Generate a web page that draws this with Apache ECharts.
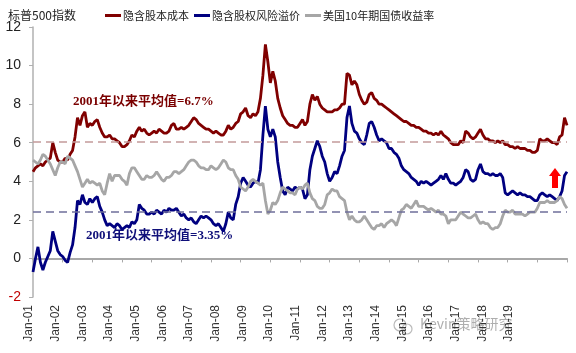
<!DOCTYPE html>
<html>
<head>
<meta charset="utf-8">
<script src="https://cdn.jsdelivr.net/npm/echarts@6/dist/echarts.min.js"></script>
<style>
  html, body { margin: 0; padding: 0; background: #fff; }
  #chart { width: 576px; height: 353px; }
</style>
</head>
<body>
<div id="chart"></div>
<script>
// 年度刻度标签
const tickLabels = ['Jan-01', 'Jan-02', 'Jan-03', 'Jan-04', 'Jan-05', 'Jan-06', 'Jan-07', 'Jan-08', 'Jan-09', 'Jan-10',
  'Jan-11', 'Jan-12', 'Jan-13', 'Jan-14', 'Jan-15', 'Jan-16', 'Jan-17', 'Jan-18', 'Jan-19'];

// 月度数据 2001-01 ~ 2019-01
const costOfEquity = [
  4.5, 4.7, 4.8, 4.9, 4.8, 5.0, 5.1, 5.2, 6.0, 5.5, 5.1, 5.0,
  5.0, 5.2, 5.1, 5.4, 5.6, 6.3, 7.3, 6.9, 7.4, 7.6, 6.8, 7.0,
  6.9, 7.1, 7.2, 6.8, 6.5, 6.3, 6.3, 6.4, 6.2, 6.2, 6.1, 6.0,
  5.8, 5.8, 5.9, 6.1, 6.4, 6.3, 6.6, 6.8, 6.6, 6.7, 6.5, 6.4,
  6.5, 6.6, 6.5, 6.7, 6.6, 6.5, 6.5, 6.6, 6.9, 7.0, 6.7, 6.7,
  6.8, 6.7, 6.8, 6.9, 7.1, 7.3, 7.2, 7.0, 6.9, 6.8, 6.7, 6.7,
  6.6, 6.5, 6.6, 6.5, 6.4, 6.4, 6.6, 6.9, 6.7, 6.8, 7.0, 7.1,
  7.5, 7.6, 7.8, 7.4, 7.3, 7.5, 7.4, 7.6, 8.3, 9.5, 11.1, 10.2,
  9.1, 9.7, 9.2, 8.3, 7.8, 7.4, 7.2, 7.0, 6.9, 6.9, 6.8, 6.8,
  7.0, 7.2, 6.9, 7.1, 8.0, 8.5, 8.2, 8.4, 8.0, 7.8, 7.7, 7.6,
  7.6, 7.6, 7.7, 7.7, 7.8, 8.0, 8.0, 9.6, 9.5, 9.0, 9.2, 9.0,
  8.5, 8.2, 8.0, 8.1, 8.5, 8.6, 8.3, 8.2, 8.0, 8.0, 7.9, 7.8,
  7.7, 7.6, 7.5, 7.4, 7.3, 7.2, 7.1, 7.1, 7.0, 6.9, 6.9, 6.8,
  6.8, 6.7, 6.6, 6.6, 6.5, 6.5, 6.4, 6.5, 6.4, 6.6, 6.4, 6.3,
  6.2, 6.0, 5.9, 5.9, 5.9, 6.1, 6.0, 6.6, 6.5, 6.3, 6.2, 6.3,
  6.5, 6.7, 6.4, 6.2, 6.2, 6.1, 6.1, 6.0, 6.1, 6.0, 6.1, 5.9,
  5.9, 5.8, 5.8, 5.7, 5.8, 5.7, 5.7, 5.7, 5.6, 5.6, 5.5, 5.5,
  5.6, 6.2, 6.1, 6.1, 6.2, 6.1, 6.0, 6.0, 5.9, 6.3, 6.4, 7.3,
  6.9
];
const riskPremium = [
  -0.7, 0.0, 0.6, -0.2, -0.6, -0.2, 0.1, 0.4, 1.4, 0.9, 0.4, 0.2,
  0.1, -0.1, -0.2, 0.3, 0.7, 1.6, 3.0, 2.8, 3.3, 2.9, 2.8, 3.1,
  2.9, 3.1, 3.2, 2.7, 2.4, 2.0, 1.7, 1.8, 1.7, 1.6, 1.8, 1.7,
  1.5, 1.6, 1.7, 1.6, 1.9, 1.8, 2.0, 2.8, 2.6, 2.5, 2.3, 2.3,
  2.4, 2.3, 2.5, 2.4, 2.3, 2.5, 2.4, 2.6, 2.5, 2.5, 2.6, 2.4,
  2.2, 2.3, 2.1, 2.0, 2.1, 1.9, 1.8, 2.0, 2.2, 2.1, 2.2, 2.1,
  2.0, 1.8, 1.7, 1.8, 1.6, 1.4, 1.8, 2.4, 2.1, 2.0, 2.8, 3.2,
  3.9, 4.2, 4.0, 3.8, 3.7, 3.9, 4.0, 3.9, 4.6, 6.4, 7.9, 6.7,
  6.3, 6.7, 6.3, 5.0, 4.2, 3.5, 3.3, 3.7, 3.6, 3.5, 3.7, 3.6,
  3.7, 3.6, 3.1, 3.3, 4.6, 5.3, 5.7, 6.1, 5.8, 5.3, 5.0, 4.4,
  4.0, 4.2, 4.5, 4.4, 4.8, 5.3, 5.6, 7.3, 7.9, 7.0, 6.6, 6.5,
  6.2, 6.0, 5.9, 6.4, 7.0, 7.1, 6.8, 6.4, 6.1, 6.2, 6.1, 6.0,
  5.7, 5.7, 5.5, 5.4, 5.2, 4.8, 4.6, 4.5, 4.4, 4.2, 4.1, 4.0,
  3.8, 4.0, 3.9, 4.0, 3.9, 3.8, 3.9, 4.0, 4.1, 4.3, 4.1, 4.4,
  4.1, 3.9, 3.9, 3.8, 3.9, 4.0, 4.2, 4.6, 4.5, 4.1, 4.0, 4.1,
  4.6, 4.9, 4.5, 4.4, 4.4, 4.3, 4.4, 4.3, 4.3, 4.4, 4.2, 3.4,
  3.3, 3.4, 3.5, 3.4, 3.3, 3.4, 3.3, 3.3, 3.2, 3.2, 3.1, 3.0,
  3.0, 3.3, 3.4, 3.3, 3.2, 3.3, 3.2, 3.1, 3.0, 3.2, 3.5, 4.3,
  4.5
];
const treasury10y = [
  5.1, 5.0, 4.9, 5.1, 5.4, 5.3, 5.1, 4.9, 4.6, 4.3, 4.7, 5.0,
  5.0, 4.9, 5.3, 5.2, 5.1, 4.8, 4.5, 4.1, 3.7, 3.9, 4.1, 3.9,
  4.0, 3.9, 3.8, 3.9, 3.5, 3.3, 3.9, 4.4, 4.0, 4.3, 4.3, 4.3,
  4.1, 4.0, 3.8, 4.4, 4.7, 4.7, 4.5, 4.3, 4.1, 4.1, 4.3, 4.2,
  4.2, 4.3, 4.5, 4.3, 4.1, 4.0, 4.2, 4.2, 4.3, 4.5, 4.5, 4.4,
  4.5, 4.6, 4.8, 5.0, 5.1, 5.1, 5.0, 4.8, 4.7, 4.7, 4.6, 4.6,
  4.8, 4.7, 4.6, 4.7, 4.9, 5.1, 5.0, 4.7, 4.6, 4.6, 4.3, 4.1,
  3.7, 3.6, 3.5, 3.7, 4.0, 4.1, 4.0, 3.9, 3.8, 3.9, 3.0, 2.3,
  2.5, 2.9, 2.8, 3.0, 3.4, 3.7, 3.6, 3.5, 3.4, 3.4, 3.3, 3.6,
  3.7, 3.6, 3.8, 3.9, 3.4, 3.1, 3.0, 2.7, 2.6, 2.6, 2.8, 3.3,
  3.4, 3.6, 3.5, 3.5, 3.2, 3.1, 3.0, 2.4, 2.0, 2.2, 2.0, 1.9,
  1.9, 2.0, 2.2, 2.0, 1.8, 1.6, 1.5, 1.7, 1.7, 1.8, 1.6, 1.8,
  1.9, 2.0, 1.9, 1.7, 2.1, 2.5, 2.6, 2.8, 2.7, 2.6, 2.8, 3.0,
  2.7, 2.7, 2.7, 2.6, 2.5, 2.6, 2.5, 2.4, 2.5, 2.3, 2.3, 2.2,
  1.8, 2.0, 2.0, 2.0, 2.2, 2.4, 2.3, 2.2, 2.1, 2.1, 2.2, 2.3,
  2.0, 1.8, 1.9, 1.8, 1.8, 1.6, 1.5, 1.6, 1.6, 1.8, 2.2, 2.5,
  2.4, 2.4, 2.5, 2.3, 2.3, 2.3, 2.3, 2.2, 2.3, 2.4, 2.4, 2.4,
  2.6, 2.9, 2.9, 2.9, 3.0, 2.9, 2.9, 2.9, 3.0, 3.2, 3.1, 2.8,
  2.6
];
// 均值虚线所在位置
const avgLines = [6.05, 2.42];

const months = [];
for (let i = 0; i < costOfEquity.length; i++) {
  const y = 2001 + Math.floor(i / 12);
  const m = (i % 12) + 1;
  months.push(y + '-' + (m < 10 ? '0' + m : m));
}

const chart = echarts.init(document.getElementById('chart'));
const cjk = '"Noto Sans CJK SC", sans-serif';
const serif = '"Liberation Serif", "Noto Sans CJK SC", serif';
const axisGray = '#a8a8a8';

chart.setOption({
  animation: false,
  color: ['#800000', '#000080', '#a6a6a6'],
  title: {
    text: '标普500指数',
    left: 3,
    top: 4,
    textStyle: { fontSize: 12, fontWeight: 'normal', color: '#222', fontFamily: cjk }
  },
  legend: {
    left: 100,
    top: 5,
    icon: 'rect',
    itemWidth: 16,
    itemHeight: 3,
    itemGap: 5,
    textStyle: { fontSize: 11, color: '#222', fontFamily: cjk, padding: [0, 0, 0, -3] },
    data: ['隐含股本成本', '隐含股权风险溢价', '美国10年期国债收益率']
  },
  grid: [
    { left: 33, right: 9, top: 27, bottom: 56 },
    { left: 29, width: 480, top: 27, bottom: 56 }
  ],
  xAxis: [
    {
      type: 'category',
      gridIndex: 0,
      data: months,
      boundaryGap: false,
      axisLine: { show: true, onZero: true, lineStyle: { color: axisGray, width: 2 } },
      axisTick: { show: true, interval: 11, length: 4, lineStyle: { color: axisGray, width: 1 } },
      axisLabel: { show: false },
      splitLine: { show: false }
    },
    {
      type: 'category',
      gridIndex: 1,
      data: tickLabels,
      boundaryGap: false,
      position: 'bottom',
      axisLine: { show: false, onZero: false },
      axisTick: { show: false },
      axisLabel: {
        interval: 0,
        rotate: 90,
        margin: 8,
        fontSize: 12,
        color: '#333',
        fontFamily: '"Liberation Sans", Arial, sans-serif'
      }
    }
  ],
  yAxis: [
    {
      type: 'value',
      gridIndex: 0,
      min: -2,
      max: 12,
      interval: 2,
      axisLine: { show: true, onZero: false, lineStyle: { color: '#b0b0b0', width: 1.5 } },
      axisTick: { show: true, length: 4, lineStyle: { color: '#b0b0b0' } },
      axisLabel: {
        margin: 12,
        fontSize: 14,
        fontFamily: '"Liberation Sans", Arial, sans-serif',
        color: (v) => (Number(v) < 0 ? '#c00000' : '#222')
      },
      splitLine: { show: false }
    },
    { type: 'value', gridIndex: 1, min: 0, max: 1, show: false }
  ],
  series: [
    {
      name: '隐含股本成本',
      type: 'line',
      data: costOfEquity,
      showSymbol: false,
      lineStyle: { width: 2.8 },
      markLine: {
        silent: true,
        symbol: 'none',
        label: { show: false },
        lineStyle: { color: '#c49a9a', type: [8, 5], width: 1.5 },
        data: [{ yAxis: avgLines[0] }]
      }
    },
    {
      name: '隐含股权风险溢价',
      type: 'line',
      data: riskPremium,
      showSymbol: false,
      lineStyle: { width: 2.8 },
      markLine: {
        silent: true,
        symbol: 'none',
        label: { show: false },
        lineStyle: { color: '#6f6f9a', type: [8, 5], width: 1.5 },
        data: [{ yAxis: avgLines[1] }]
      }
    },
    {
      name: '美国10年期国债收益率',
      type: 'line',
      data: treasury10y,
      showSymbol: false,
      lineStyle: { width: 2.8 }
    }
  ],
  graphic: [
    {
      id: 'avgCostText',
      type: 'text',
      left: 73,
      top: 95,
      style: { text: '2001年以来平均值=6.7%', fill: '#7a0000', font: 'bold 13px ' + serif }
    },
    {
      id: 'avgPremiumText',
      type: 'text',
      left: 86,
      top: 229,
      style: { text: '2001年以来平均值=3.35%', fill: '#10107a', font: 'bold 13px ' + serif }
    },
    {
      // 红色上箭头
      id: 'upArrow',
      type: 'polygon',
      shape: { points: [[555, 168], [561, 176], [558, 176], [558, 188], [552, 188], [552, 176], [549, 176]] },
      style: { fill: '#ff0000' }
    },
    {
      // 水印
      id: 'watermark',
      type: 'group',
      children: [
        { type: 'circle', shape: { cx: 400, cy: 325, r: 6 }, style: { fill: 'none', stroke: 'rgba(140,140,140,0.6)', lineWidth: 1.2 } },
        { type: 'circle', shape: { cx: 407, cy: 329, r: 5 }, style: { fill: 'none', stroke: 'rgba(140,140,140,0.6)', lineWidth: 1.2 } },
        { type: 'text', x: 420, y: 317, style: { text: 'Kevin策略研究', fill: 'rgba(120,120,120,0.6)', font: '14px ' + cjk } }
      ]
    }
  ]
});
</script>
</body>
</html>
